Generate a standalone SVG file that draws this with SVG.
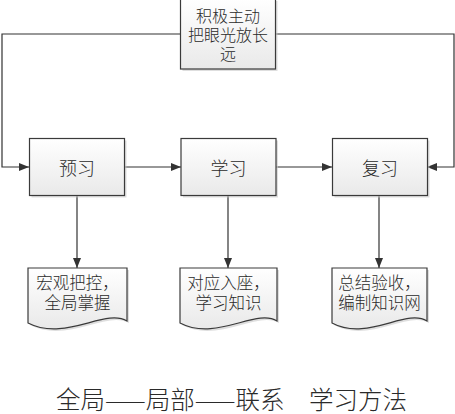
<svg xmlns="http://www.w3.org/2000/svg" width="455" height="414" viewBox="0 0 455 414">
<defs>
<linearGradient id="g" x1="0" y1="0" x2="0" y2="1">
<stop offset="0" stop-color="#ffffff"/>
<stop offset="1" stop-color="#e9e9e9"/>
</linearGradient>
<marker id="ah" viewBox="0 0 10 10" refX="10" refY="5" markerWidth="10" markerHeight="10" markerUnits="userSpaceOnUse" orient="auto">
<path d="M0,1 L10,5 L0,9 Z" fill="#333"/>
</marker>
</defs>
<style>
.box{fill:url(#g);stroke:#3a3a3a;stroke-width:1.2}
.sh{fill:#c8c8c8;opacity:0.6}
.t{font-family:"Noto Sans CJK SC","Noto Sans",sans-serif;font-weight:300;fill:#2a2a2a;text-anchor:middle;dominant-baseline:central}
.c{fill:none;stroke:#333;stroke-width:1.2}
</style>
<rect width="455" height="414" fill="#fff"/>
<g id="connectors">
<path class="c" d="M180,34 H2 V167 H29" marker-end="url(#ah)"/>
<path class="c" d="M276,34 H454 V167 H427" marker-end="url(#ah)"/>
<path class="c" d="M124,167 H181" marker-end="url(#ah)"/>
<path class="c" d="M276,167 H332" marker-end="url(#ah)"/>
<path class="c" d="M77,195 V268" marker-end="url(#ah)"/>
<path class="c" d="M228,195 V268" marker-end="url(#ah)"/>
<path class="c" d="M379,195 V268" marker-end="url(#ah)"/>
</g>
<g id="top">
<rect class="sh" x="182.5" y="1" width="95" height="70"/>
<rect class="box" x="180.5" y="-1" width="95" height="70"/>
<text class="t" font-size="16" x="228" y="15">积极主动</text>
<text class="t" font-size="16" x="228" y="34">把眼光放长</text>
<text class="t" font-size="16" x="228" y="53">远</text>
</g>
<g id="yuxi">
<rect class="sh" x="31.5" y="140.5" width="95" height="57"/>
<rect class="box" x="29.5" y="138.5" width="95" height="57"/>
<text class="t" font-size="18" x="77" y="166.5">预习</text>
</g>
<g id="xuexi">
<rect class="sh" x="183" y="140.5" width="95" height="57"/>
<rect class="box" x="181" y="138.5" width="95" height="57"/>
<text class="t" font-size="18" x="228.5" y="166.5">学习</text>
</g>
<g id="fuxi">
<rect class="sh" x="334.5" y="140.5" width="95" height="57"/>
<rect class="box" x="332.5" y="138.5" width="95" height="57"/>
<text class="t" font-size="18" x="380" y="166.5">复习</text>
</g>
<g id="doc1">
<path class="sh" d="M30,270 H129 V323 C107,310 67,344 30,325 Z"/>
<path class="box" d="M28,268 H127 V321 C105,308 65,342 28,323 Z"/>
<text class="t" font-size="16.5" x="77.5" y="282">宏观把控，</text>
<text class="t" font-size="16.5" x="77.5" y="302">全局掌握</text>
</g>
<g id="doc2">
<path class="sh" d="M182,270 H279 V323 C258,310 218,344 182,325 Z"/>
<path class="box" d="M180,268 H277 V321 C256,308 216,342 180,323 Z"/>
<text class="t" font-size="16.5" x="228.5" y="282">对应入座，</text>
<text class="t" font-size="16.5" x="228.5" y="302">学习知识</text>
</g>
<g id="doc3">
<path class="sh" d="M334,270 H429 V323 C408,310 369,344 334,325 Z"/>
<path class="box" d="M332,268 H427 V321 C406,308 367,342 332,323 Z"/>
<text class="t" font-size="16.5" x="379.5" y="282">总结验收，</text>
<text class="t" font-size="16.5" x="379.5" y="302">编制知识网</text>
</g>
<text class="t" font-size="24.5" x="231.5" y="398">全局——局部——联系　学习方法</text>
</svg>
